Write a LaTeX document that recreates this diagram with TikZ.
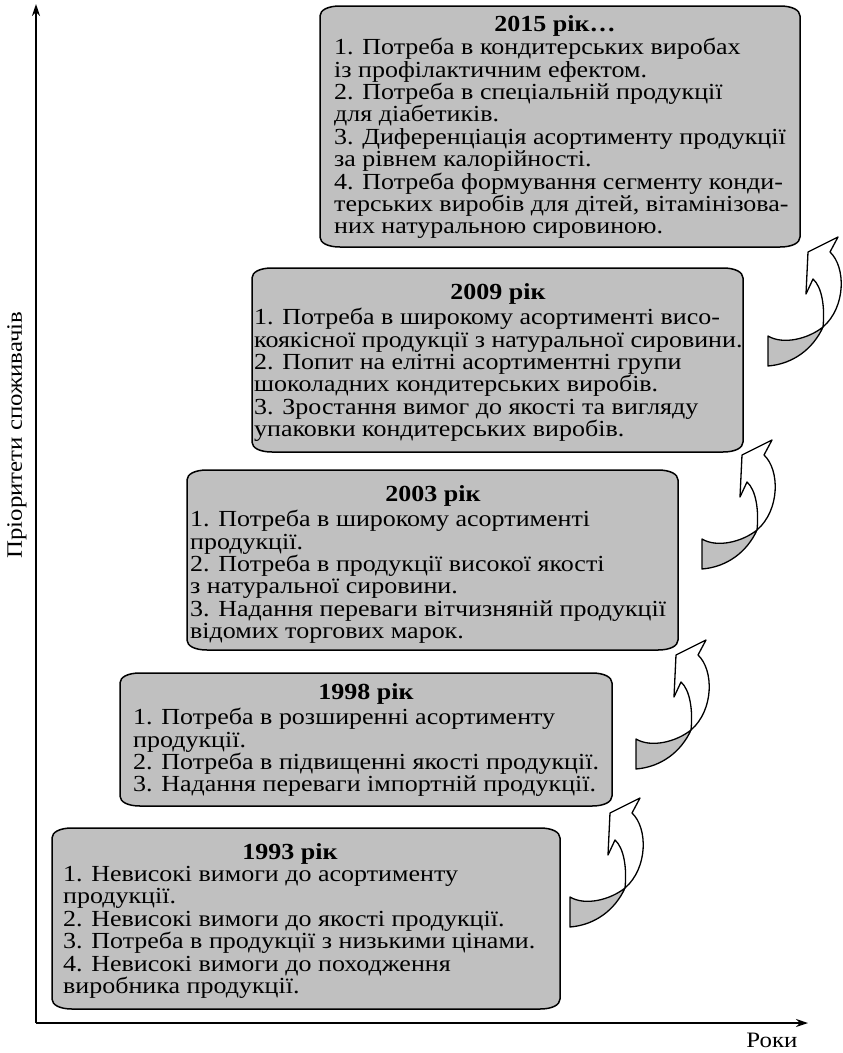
\documentclass[tikz,border=0pt]{standalone}
\usepackage{fontspec}
\setmainfont[FakeStretch=1.13]{Liberation Serif}
\usetikzlibrary{arrows.meta}
\definecolor{boxgray}{RGB}{192,192,192}
\newcommand{\stagebox}[4]{%
 \path[boxline] (#1+20,#2) -- (#3-20,#2) .. controls (#3-8,#2) and (#3,#2+4) .. (#3,#2+10) -- (#3,#4-10) .. controls (#3,#4-4) and (#3-8,#4) .. (#3-20,#4) -- (#1+20,#4) .. controls (#1+8,#4) and (#1,#4-4) .. (#1,#4-10) -- (#1,#2+10) .. controls (#1,#2+4) and (#1+8,#2) .. (#1+20,#2) -- cycle;}
\newcommand{\curlarrow}[1]{%
 \begin{scope}[shift={#1}]
 \path[arrowline, fill=boxgray] (-15,90) .. controls (-25,112) and (-45,127) .. (-70,129) -- (-70,99) .. controls (-55,108) and (-30,102) .. (-15,90) -- cycle;
 \path[arrowline, fill=white] (0,0) -- (-8,15) .. controls (8,30) and (8,70) .. (-15,90) .. controls (-13,70) and (-16,50) .. (-25,42) -- (-32,57) -- (-30,15) -- cycle;
 \end{scope}}
\begin{document}
\begin{tikzpicture}[x=1pt,y=-1pt,line join=round,
 boxline/.style={draw=black, line width=1.5pt, fill=boxgray},
 bodytext/.style={anchor=north west, inner sep=0pt, align=left, font=\fontsize{23}{22.4}\selectfont},
 titletext/.style={anchor=base, inner sep=0pt, font=\fontsize{23}{22.4}\selectfont\bfseries},
 axisline/.style={line width=1.5pt, -{Stealth[length=12pt,width=8pt]}},
 arrowline/.style={draw=black, line width=1.3pt},
 axislabel/.style={inner sep=0pt, font=\fontsize{22}{22.4}\selectfont}]
\useasboundingbox (0,0) rectangle (843,1053);
% axes
\coordinate (O) at (36,1023);
\coordinate (ytip) at (36,4);
\coordinate (xtip) at (808,1023);
\draw[axisline] (O) -- (ytip);
\draw[axisline] (O) -- (xtip);
\node[axislabel, rotate=90] (ylab) at (17,435) {Пріоритети споживачів};
\node[axislabel] (xlab) at (772,1040) {Роки};
% boxes
\stagebox{320}{6}{800}{247}
\node[titletext] (t2015) at (555,31) {2015 рік…};
\node[bodytext] (b2015) at (334,38) {1. Потреба в кондитерських виробах\\із профілактичним ефектом.\\2. Потреба в спеціальній продукції\\для діабетиків.\\3. Диференціація асортименту продукції\\за рівнем калорійності.\\4. Потреба формування сегменту конди-\\терських виробів для дітей, вітамінізова-\\них натуральною сировиною.};
\stagebox{252}{268}{743}{452}
\node[titletext] (t2009) at (498,299) {2009 рік};
\node[bodytext] (b2009) at (254,308) {1. Потреба в широкому асортименті висо-\\коякісної продукції з натуральної сировини.\\2. Попит на елітні асортиментні групи\\шоколадних кондитерських виробів.\\3. Зростання вимог до якості та вигляду\\упаковки кондитерських виробів.};
\stagebox{187}{470}{678}{650}
\node[titletext] (t2003) at (433,501) {2003 рік};
\node[bodytext] (b2003) at (190,510) {1. Потреба в широкому асортименті\\продукції.\\2. Потреба в продукції високої якості\\з натуральної сировини.\\3. Надання переваги вітчизняній продукції\\відомих торгових марок.};
\stagebox{120}{673}{612}{806}
\node[titletext] (t1998) at (366,699) {1998 рік};
\node[bodytext] (b1998) at (133,708) {1. Потреба в розширенні асортименту\\продукції.\\2. Потреба в підвищенні якості продукції.\\3. Надання переваги імпортній продукції.};
\stagebox{52}{828}{560}{1009}
\node[titletext] (t1993) at (290,859) {1993 рік};
\node[bodytext] (b1993) at (63,866) {1. Невисокі вимоги до асортименту\\продукції.\\2. Невисокі вимоги до якості продукції.\\3. Потреба в продукції з низькими цінами.\\4. Невисокі вимоги до походження\\виробника продукції.};
% curved arrows
\curlarrow{(640,798)}
\curlarrow{(706,640)}
\curlarrow{(772,440)}
\curlarrow{(838,237)}
\end{tikzpicture}
\end{document}
